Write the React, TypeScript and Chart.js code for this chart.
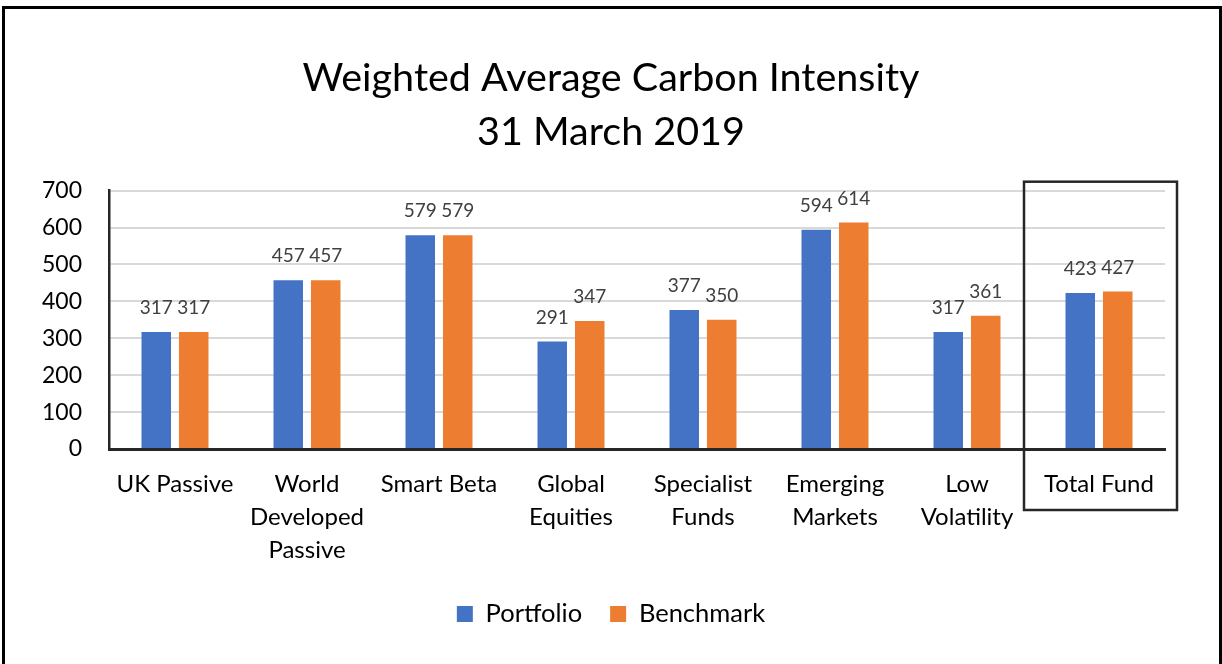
import React, { useEffect, useRef } from "react";
import { Chart, registerables } from "chart.js";

Chart.register(...registerables);

const categories: string[][] = [
  ["UK Passive"],
  ["World", "Developed", "Passive"],
  ["Smart Beta"],
  ["Global", "Equities"],
  ["Specialist", "Funds"],
  ["Emerging", "Markets"],
  ["Low", "Volatility"],
  ["Total Fund"],
];
const portfolio: number[] = [317, 457, 579, 291, 377, 594, 317, 423];
const benchmark: number[] = [317, 457, 579, 347, 350, 614, 361, 427];
const titleLines: string[] = ["Weighted Average Carbon Intensity", "31 March 2019"];
const seriesNames: string[] = ["Portfolio", "Benchmark"];
const yTicks = { min: 0, max: 700, step: 100 };

const FONT = "Lato";

const dataLabels = {
  id: "dataLabels",
  afterDatasetsDraw(chart: any) {
    const ctx = chart.ctx;
    ctx.save();
    ctx.font = `19px ${FONT}`;
    ctx.fillStyle = "#404040";
    ctx.textAlign = "center";
    ctx.textBaseline = "middle";
    chart.data.datasets.forEach((ds: any, i: number) => {
      const meta = chart.getDatasetMeta(i);
      meta.data.forEach((el: any, j: number) => {
        ctx.fillText(String(ds.data[j]), el.x, el.y - 24);
      });
    });
    ctx.restore();
  },
};

const highlightBox = {
  id: "highlightBox",
  afterDraw(chart: any) {
    const xs = chart.scales.x;
    const area = chart.chartArea;
    const idx = categories.length - 1;
    const cx = xs.getPixelForValue(idx);
    const half = xs.width / categories.length / 2;
    const ctx = chart.ctx;
    ctx.save();
    ctx.strokeStyle = "#262626";
    ctx.lineWidth = 2.5;
    ctx.strokeRect(cx - half - 9, area.top - 9, 2 * half + 21, area.bottom - area.top + 70);
    ctx.restore();
  },
};

export default function App() {
  const ref = useRef<HTMLCanvasElement | null>(null);
  useEffect(() => {
    if (!ref.current) return;
    const chart = new Chart(ref.current, {
      type: "bar",
      data: {
        labels: categories as any,
        datasets: [
          {
            label: seriesNames[0],
            data: portfolio,
            backgroundColor: "#4472C4",
            borderWidth: 0,
            categoryPercentage: 0.568,
            barPercentage: 0.787,
          },
          {
            label: seriesNames[1],
            data: benchmark,
            backgroundColor: "#ED7D31",
            borderWidth: 0,
            categoryPercentage: 0.568,
            barPercentage: 0.787,
          },
        ],
      },
      options: {
        responsive: false,
        animation: false,
        layout: { padding: { left: 0, right: 0, top: 0, bottom: 27.25 } },
        plugins: {
          title: {
            display: true,
            text: titleLines,
            color: "#000",
            font: { family: FONT, size: 39.5, weight: "normal", lineHeight: 1.367 },
            padding: { top: 51, bottom: 31.7 },
          },
          legend: {
            position: "bottom",
            labels: {
              boxWidth: 16,
              boxHeight: 16,
              padding: 28,
              color: "#000",
              font: { family: FONT, size: 25.5 },
            },
          },
          tooltip: { enabled: false },
        },
        scales: {
          x: {
            grid: { display: false, drawTicks: false },
            border: { display: true, color: "#262626", width: 3 },
            ticks: {
              color: "#000",
              padding: 18.5,
              maxRotation: 0,
              autoSkip: false,
              font: { family: FONT, size: 24, lineHeight: 1.375 },
            },
            afterFit: (s: any) => {
              s.height = 124.25;
            },
          },
          y: {
            min: yTicks.min,
            max: yTicks.max,
            grid: { color: "#d9d9d9", lineWidth: 2, drawTicks: false },
            border: { display: true, color: "#262626", width: 2.5 },
            ticks: {
              stepSize: yTicks.step,
              color: "#000",
              padding: 27,
              font: { family: FONT, size: 23 },
            },
            afterFit: (s: any) => {
              s.width = 109;
            },
          },
          yR: {
            position: "right",
            display: true,
            grid: { display: false, drawOnChartArea: false, drawTicks: false },
            border: { display: false },
            ticks: { display: false },
            afterFit: (s: any) => {
              s.width = 57;
            },
          },
        },
      },
      plugins: [dataLabels, highlightBox],
    });
    return () => chart.destroy();
  }, []);

  return (
    <div style={{ position: "fixed", left: 0, top: 0, width: 1222, height: 664, background: "#fff", overflow: "hidden" }}>
      <canvas ref={ref} width={1222} height={664} style={{ display: "block", position: "absolute", left: 0, top: 0 }} />
      <div
        style={{
          position: "absolute",
          left: 2,
          top: 6,
          width: 1220,
          height: 658,
          boxSizing: "border-box",
          borderTop: "3px solid #000",
          borderLeft: "3px solid #000",
          borderRight: "3px solid #000",
          pointerEvents: "none",
        }}
      />
    </div>
  );
}
